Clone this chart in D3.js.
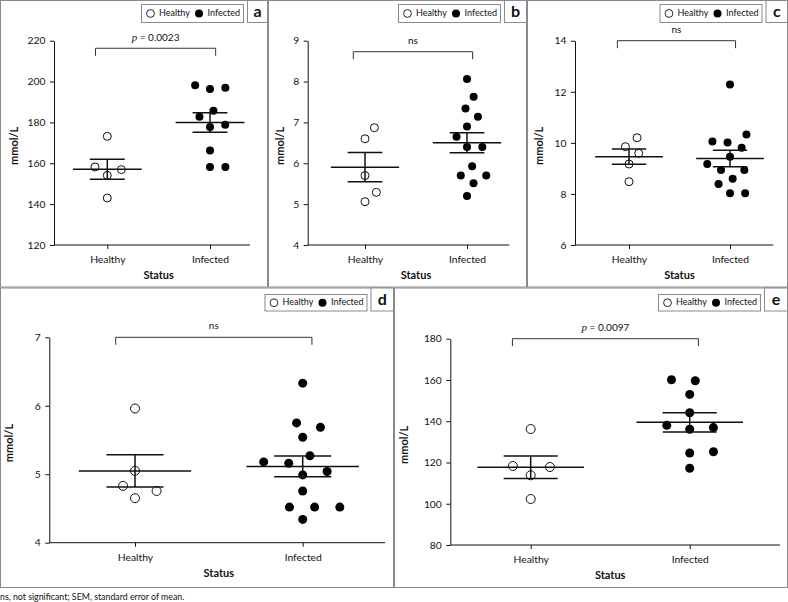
<!DOCTYPE html>
<html>
<head>
<meta charset="utf-8">
<script src="https://cdn.jsdelivr.net/npm/d3@7"></script>
<style>
  html, body { margin: 0; padding: 0; background: #fff; }
  svg { display: block; font-family: Lato, "Open Sans", sans-serif; }
</style>
</head>
<body>
<svg id="chart" width="788" height="602"></svg>
<script>
// ---------------- DATA ----------------
const categories = ["Healthy", "Infected"];
const panelLetters = ["a", "b", "c", "d", "e"];

const healthyA  = [143.0, 154.1, 156.9, 158.2, 173.2];
const infectedA = [158.2, 158.2, 166.2, 177.8, 178.9, 182.8, 185.7, 196.4, 197.0, 198.2];

const healthyB  = [5.06, 5.29, 5.70, 6.60, 6.87];
const infectedB = [5.20, 5.51, 5.70, 5.70, 5.93, 6.40, 6.40, 6.65, 6.90, 7.14, 7.34, 7.63, 8.06];

const healthyC  = [8.48, 9.17, 9.59, 9.85, 10.20];
const infectedC = [8.03, 8.03, 8.39, 8.59, 8.94, 8.94, 9.17, 9.46, 9.81, 10.01, 10.05, 10.33, 12.28];

const healthyD  = [4.65, 4.755, 4.83, 5.05, 5.96];
const infectedD = [4.34, 4.52, 4.52, 4.52, 4.755, 4.99, 5.04, 5.16, 5.18, 5.27, 5.54, 5.685, 5.75, 6.33];

const healthyE  = [102.3, 113.8, 117.8, 118.3, 136.2];
const infectedE = [117.2, 124.6, 125.2, 136.1, 136.9, 138.0, 144.1, 153.0, 159.6, 160.1];

const ticksA = [120, 140, 160, 180, 200, 220];
const ticksB = [4, 5, 6, 7, 8, 9];
const ticksC = [6, 8, 10, 12, 14];
const ticksD = [4, 5, 6, 7];
const ticksE = [80, 100, 120, 140, 160, 180];

// p-value labels (null = not significant) and bracket heights in data units
const pValues = ["0.0023", null, null, null, "0.0097"];
const bracketLevels = [216.3, 8.73, 14, 7, 180];

const yTitle = "mmol/L";
const xTitle = "Status";
const footnote = "ns, not significant; SEM, standard error of mean.";

// ---------------- LAYOUT (not data) ----------------
const layout = [
  {x0: 0,   x1: 268, y0: 0,     y1: 287.5, axisX: 54,    yTop: 40.7,  yBot: 245,   xEnd: 250,   cat: [107.3, 210],   r: 4,   labX: 15,    lbw: 21},
  {x0: 268, x1: 527, y0: 0,     y1: 287.5, axisX: 307.7, yTop: 40.7,  yBot: 245,   xEnd: 509.3, cat: [365, 467],     r: 4,   labX: 281,   lbw: 23},
  {x0: 527, x1: 788, y0: 0,     y1: 287.5, axisX: 575,   yTop: 40.7,  yBot: 245,   xEnd: 773.3, cat: [629, 730],     r: 4,   labX: 540,   lbw: 22.5},
  {x0: 0,   x1: 394, y0: 287.5, y1: 588,   axisX: 49.3,  yTop: 337.3, yBot: 542.7, xEnd: 385,   cat: [135, 302.7],   r: 4.5, labX: 10.5,  lbw: 23.5},
  {x0: 394, x1: 788, y0: 287.5, y1: 588,   axisX: 450.3, yTop: 338.7, yBot: 545,   xEnd: 780,   cat: [530.7, 689.7], r: 4.5, labX: 405,   lbw: 24}
];

const healthySets  = [healthyA, healthyB, healthyC, healthyD, healthyE];
const infectedSets = [infectedA, infectedB, infectedC, infectedD, infectedE];
const tickSets = [ticksA, ticksB, ticksC, ticksD, ticksE];

const svg = d3.select("#chart");
svg.append("rect").attr("width", 788).attr("height", 602).attr("fill", "#fff");

const borderCol = "#8a8a8a";
const inkCol = "#111";
const textCol = "#111";

function swarm(vals, cx, y, S, V) {
  const pts = vals.map(v => ({v: v, y: y(v)})).sort((a, b) => a.v - b.v);
  const placed = [];
  pts.forEach(p => {
    const cands = [0];
    placed.forEach(q => {
      const dy = p.y - q.y;
      if (Math.abs(dy) < V) {
        const w = S * Math.sqrt(1 - (dy / V) * (dy / V));
        cands.push(q.x + w, q.x - w);
      }
    });
    cands.sort((a, b) => (Math.abs(a) - Math.abs(b)) || (b - a));
    let pick = cands[cands.length - 1];
    for (const c of cands) {
      const ok = placed.every(q => {
        const dx = (c - q.x) / S, dy = (p.y - q.y) / V;
        return dx * dx + dy * dy >= 0.999;
      });
      if (ok) { pick = c; break; }
    }
    p.x = pick;
    placed.push(p);
  });
  return pts.map(p => ({v: p.v, cx: cx + p.x, cy: p.y}));
}

layout.forEach((L, i) => {
  const g = svg.append("g");
  const ticks = tickSets[i];
  const y = d3.scaleLinear().domain(d3.extent(ticks)).range([L.yBot, L.yTop]);
  const x = d3.scalePoint().domain(categories).range(L.cat).padding(0);
  const step = L.cat[1] - L.cat[0];

  // panel border
  g.append("rect")
    .attr("x", L.x0 + 0.5).attr("y", L.y0 + 0.5)
    .attr("width", L.x1 - L.x0 - 1).attr("height", L.y1 - L.y0 - 1)
    .attr("fill", "none").attr("stroke", borderCol).attr("stroke-width", 1);

  // letter box
  const lbTop = L.y0 + 0.5, lbH = i < 3 ? 22 : 23;
  g.append("rect")
    .attr("x", L.x1 - L.lbw + 0.5).attr("y", lbTop)
    .attr("width", L.lbw - 1).attr("height", lbH)
    .attr("fill", "#fff").attr("stroke", borderCol);
  g.append("text")
    .attr("x", L.x1 - L.lbw / 2).attr("y", lbTop + lbH / 2 + 1)
    .attr("text-anchor", "middle").attr("dominant-baseline", "middle")
    .attr("font-size", 16).attr("font-weight", "bold").attr("fill", "#111")
    .text(panelLetters[i]);

  // legend box
  const lgW = 102, lgH = i < 3 ? 18 : 16.5;
  const lgX = L.x1 - L.lbw - 4 - lgW, lgY = (i < 3 ? L.y0 + 4 : L.y0 + 6.5);
  const lg = g.append("g");
  lg.append("rect").attr("x", lgX + 0.5).attr("y", lgY + 0.5).attr("width", lgW).attr("height", lgH)
    .attr("fill", "#fff").attr("stroke", borderCol);
  const lcy = lgY + lgH / 2 + 0.5;
  lg.append("circle").attr("cx", lgX + 9.5).attr("cy", lcy).attr("r", 3.9)
    .attr("fill", "#fff").attr("stroke", inkCol).attr("stroke-width", 0.9);
  lg.append("text").attr("x", lgX + 18).attr("y", lcy).attr("dominant-baseline", "middle")
    .attr("font-size", 9).attr("fill", textCol).text(categories[0]);
  lg.append("circle").attr("cx", lgX + 58).attr("cy", lcy).attr("r", 4).attr("fill", "#000");
  lg.append("text").attr("x", lgX + 66.5).attr("y", lcy).attr("dominant-baseline", "middle")
    .attr("font-size", 9).attr("fill", textCol).text(categories[1]);

  // y axis
  const ya = g.append("g").attr("transform", `translate(${L.axisX},0)`)
    .call(d3.axisLeft(y).tickValues(ticks).tickSize(4).tickSizeOuter(0).tickPadding(4.5).tickFormat(d3.format("d")));
  ya.select(".domain").attr("stroke", inkCol);
  ya.selectAll(".tick line").attr("stroke", inkCol);
  ya.selectAll(".tick text").attr("font-size", 10.3).attr("fill", textCol).attr("font-family", "Lato, 'Open Sans', sans-serif");

  // x axis
  const xa = g.append("g").attr("transform", `translate(0,${L.yBot})`)
    .call(d3.axisBottom(x).tickSize(4).tickPadding(7));
  xa.select(".domain").remove();
  xa.selectAll(".tick line").attr("stroke", inkCol);
  xa.selectAll(".tick text").attr("font-size", 10.3).attr("fill", textCol).attr("font-family", "Lato, 'Open Sans', sans-serif");
  g.append("line").attr("x1", L.axisX).attr("x2", L.xEnd).attr("y1", L.yBot).attr("y2", L.yBot)
    .attr("stroke", inkCol).attr("stroke-width", 1);

  // titles
  g.append("text")
    .attr("x", (L.cat[0] + L.cat[1]) / 2).attr("y", L.yBot + 31)
    .attr("text-anchor", "middle").attr("dominant-baseline", "middle")
    .attr("font-size", 11).attr("font-weight", "bold").attr("fill", "#111").text(xTitle);
  g.append("text")
    .attr("transform", `translate(${L.labX},${(L.yTop + L.yBot) / 2 + 3}) rotate(-90)`)
    .attr("text-anchor", "middle").attr("dominant-baseline", "middle")
    .attr("font-size", 11).attr("font-weight", "bold").attr("fill", "#111").text(yTitle);

  // significance bracket
  const by = y(bracketLevels[i]);
  const bx0 = x(categories[0]) - 0.115 * step, bx1 = x(categories[1]) + 0.055 * step;
  g.append("path")
    .attr("d", `M${bx0},${by + 7.5}V${by}H${bx1}V${by + 7.5}`)
    .attr("fill", "none").attr("stroke", "#333").attr("stroke-width", 1);
  const lab = g.append("text")
    .attr("x", (bx0 + bx1) / 2).attr("y", by - 10.5)
    .attr("text-anchor", "middle").attr("dominant-baseline", "middle")
    .attr("font-size", 10).attr("fill", textCol);
  if (pValues[i]) {
    lab.append("tspan").attr("font-style", "italic").attr("font-family", "'Liberation Serif', serif").attr("font-size", 11).text("p");
    lab.append("tspan").text(" = " + pValues[i]);
  } else {
    lab.text("ns");
  }

  // groups
  const S = 0.15 * step, V = 14;
  [healthySets[i], infectedSets[i]].forEach((vals, k) => {
    const cx = x(categories[k]);
    const m = d3.mean(vals);
    const sem = d3.deviation(vals) / Math.sqrt(vals.length);
    const pts = swarm(vals, cx, y, S, V);
    g.selectAll(null).data(pts).enter().append("circle")
      .attr("cx", d => d.cx).attr("cy", d => d.cy).attr("r", L.r)
      .attr("fill", k === 0 ? "#fff" : "#000")
      .attr("stroke", k === 0 ? inkCol : "#000").attr("stroke-width", k === 0 ? 1 : 0);
    const eb = g.append("g").attr("stroke", "#111").attr("stroke-width", 1.5).attr("fill", "none");
    const mh = 0.335 * step, ch = 0.17 * step;
    eb.append("line").attr("x1", cx - mh).attr("x2", cx + mh).attr("y1", y(m)).attr("y2", y(m));
    eb.append("line").attr("x1", cx).attr("x2", cx).attr("y1", y(m + sem)).attr("y2", y(m - sem));
    eb.append("line").attr("x1", cx - ch).attr("x2", cx + ch).attr("y1", y(m + sem)).attr("y2", y(m + sem));
    eb.append("line").attr("x1", cx - ch).attr("x2", cx + ch).attr("y1", y(m - sem)).attr("y2", y(m - sem));
  });
});

svg.append("text").attr("x", 0).attr("y", 600)
  .attr("font-size", 8.8).attr("fill", textCol).text(footnote);
</script>
</body>
</html>
